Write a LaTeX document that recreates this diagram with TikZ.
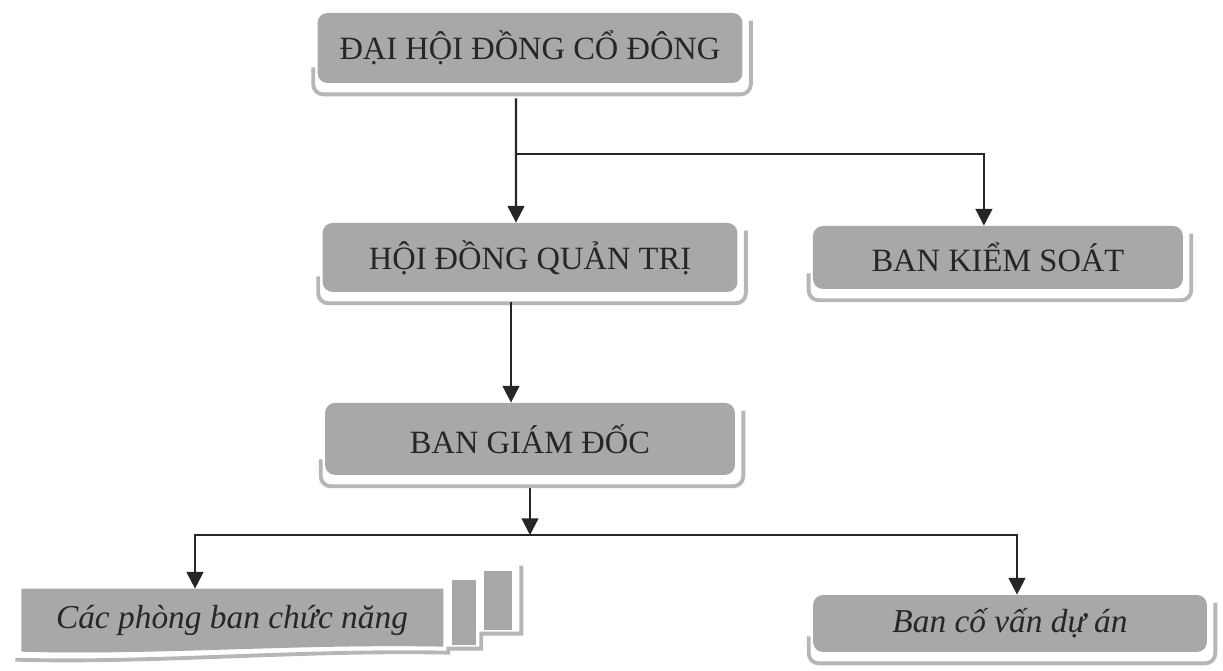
\documentclass[tikz,border=0pt]{standalone}
\usepackage{fontspec}
\setmainfont{Liberation Serif}
\usetikzlibrary{arrows.meta, positioning, backgrounds}
\definecolor{boxgray}{RGB}{168,168,168}
\definecolor{framegray}{RGB}{182,182,182}
\definecolor{inkgray}{RGB}{38,38,38}

\begin{document}
\begin{tikzpicture}[
        x=0.02cm, y=-0.02cm,
        node distance=2cm, >={Triangle[length=9.5pt,width=9.5pt]},
        block/.style={rectangle, fill=boxgray, rounded corners=0.2cm, text=inkgray, font=\fontsize{18.5}{22}\selectfont, inner sep=0pt},
        page/.style={rectangle, text=inkgray, font=\fontsize{19}{22}\selectfont\itshape, inner sep=0pt},
        frame/.style={draw=framegray, line width=2.2pt, rounded corners=0.2cm},
        line/.style={draw=inkgray, line width=1.2pt, ->},
    ]
    \useasboundingbox (0,0) rectangle (1223,671);

    % Nodes
    \node [block, minimum width=8.5cm, minimum height=1.4cm] (dhcd) at (530,48) {ĐẠI HỘI ĐỒNG CỔ ĐÔNG};
    \node [block, minimum width=8.3cm, minimum height=1.38cm, below of=dhcd, node distance=4.19cm] (hdqt) {HỘI ĐỒNG QUẢN TRỊ};
    \node [block, minimum width=7.4cm, minimum height=1.26cm, right of=hdqt, node distance=9.36cm] (bks) {BAN KIỂM SOÁT};
    \node [block, minimum width=8.2cm, minimum height=1.44cm, below of=hdqt, node distance=3.63cm] (bgd) {BAN GIÁM ĐỐC};
    \node [page, minimum width=8.44cm, minimum height=1.26cm] (pbcn) at (232,620.5) {Các phòng ban chức năng};
    \node [block, font=\fontsize{19}{22}\selectfont\itshape, minimum width=7.88cm, minimum height=1.14cm] (bcv) at (1010,623.5) {Ban cố vấn dự án};

    % Frames
    \begin{scope}[on background layer]
        \foreach \n in {dhcd, hdqt, bks, bgd, bcv}
            \draw [frame] ([shift={(-4,-16)}]\n.south west) -- ([shift={(-4,11)}]\n.south west) -- ([shift={(8,11)}]\n.south east) -- ([shift={(8,8)}]\n.north east);
        \begin{scope}[shift={(pbcn.north east)}]
            \fill [boxgray] (41,-18) rectangle (69,41);
            \fill [boxgray] (9,-9) rectangle (33,56);
            \draw [frame, rounded corners=0pt] (-428,71) .. controls (-293,75) and (-143,61) .. (5,64) -- (5,60) -- (38,60) -- (38,45) -- (78,45) -- (78,-23);
            \fill [boxgray] (-422,0) -- (0,0) -- (0,58) .. controls (-143,55) and (-293,67) .. (-422,63) -- cycle;
        \end{scope}
    \end{scope}

    % Arrows
    \coordinate (split1) at (516,154);
    \coordinate (split2) at (530,535);
    \path [line] ([xshift=-0.28cm, yshift=-0.3cm]dhcd.south) -- (split1 |- hdqt.north);
    \path [line] (split1) -| ([xshift=-0.28cm]bks.north);
    \path [line] ([xshift=-0.38cm, yshift=-0.2cm]hdqt.south) -- ([xshift=-0.38cm]hdqt.south |- bgd.north);
    \path [line] ([yshift=-0.26cm]bgd.south) -- (split2);
    \path [line] (split2) -| ([xshift=-0.74cm]pbcn.north);
    \path [line] (split2) -| ([xshift=0.14cm]bcv.north);

\end{tikzpicture}
\end{document}
